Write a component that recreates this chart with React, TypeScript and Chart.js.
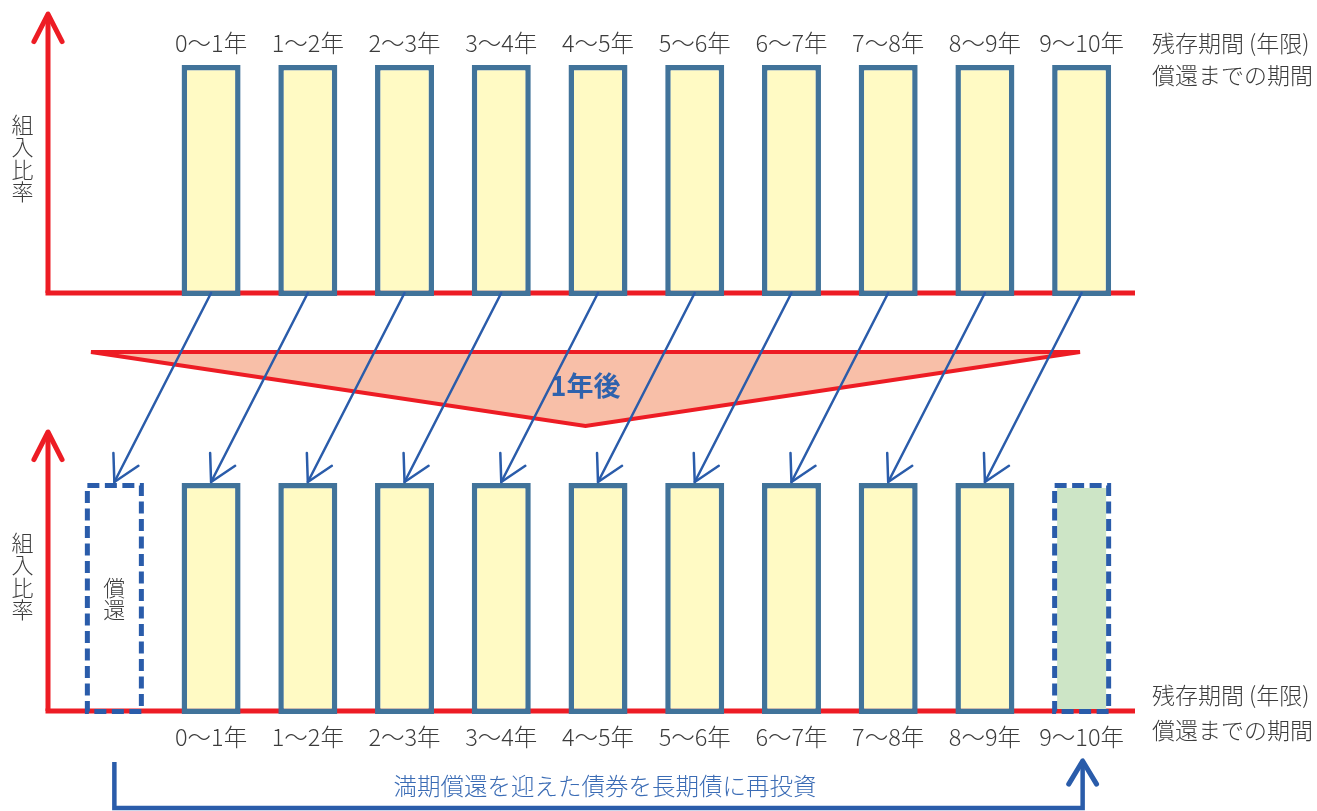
import React, { useEffect, useRef } from "react";
import { Chart, registerables } from "chart.js";

Chart.register(...registerables);

// ---- data ----
const slotLabels = ["償還", "0～1年", "1～2年", "2～3年", "3～4年", "4～5年", "5～6年", "6～7年", "7～8年", "8～9年", "9～10年"];
// 組入比率 (each maturity bucket equally weighted)
const beforeWeights = [null, 10, 10, 10, 10, 10, 10, 10, 10, 10, 10];
const afterHeldWeights = [null, 10, 10, 10, 10, 10, 10, 10, 10, 10, null];
const redeemedWeights = [10, null, null, null, null, null, null, null, null, null, null];
const reinvestedWeights = [null, null, null, null, null, null, null, null, null, null, 10];
const yAxisTitle = "組入比率";
const xAxisTitle = ["残存期間 (年限)", "償還までの期間"];
const redeemedText = "償還";
const shiftText = "1年後";
const reinvestText = "満期償還を迎えた債券を長期債に再投資";

// ---- layout / style ----
const TOP_BASE = 18.095;
const Y_MIN = -4.2;
const Y_MAX = 30.91;
const FONT = '"Noto Sans CJK JP", "Noto Sans CJK SC", sans-serif';
const RED = "#ed1c24";
const STEEL = "#41739a";
const YELLOW = "#fffac4";
const GREEN = "#cde5c6";
const BLUE = "#2a5caa";
const TEXT = "#3c3c3c";
const TRI_FILL = "#f8bfa8";

function drawArrowHead(ctx: CanvasRenderingContext2D, tx: number, ty: number, fx: number, fy: number, len: number, ang: number) {
  const a = Math.atan2(fy - ty, fx - tx);
  ctx.beginPath();
  ctx.moveTo(tx + len * Math.cos(a - ang), ty + len * Math.sin(a - ang));
  ctx.lineTo(tx, ty);
  ctx.lineTo(tx + len * Math.cos(a + ang), ty + len * Math.sin(a + ang));
  ctx.stroke();
}

const diagramPlugin = {
  id: "diagram",
  beforeDatasetsDraw(chart: any) {
    const { ctx, chartArea, scales } = chart;
    const y = scales.y;
    const axisX = chartArea.left - 18;
    ctx.save();
    // red axes for both panels
    [TOP_BASE, 0].forEach((base) => {
      const by = y.getPixelForValue(base) - 3;
      const topY = y.getPixelForValue(base + 10) - 51;
      ctx.strokeStyle = RED;
      ctx.lineWidth = 5;
      ctx.lineCap = "butt";
      ctx.beginPath();
      ctx.moveTo(axisX - 2.5, by);
      ctx.lineTo(chartArea.right + 5, by);
      ctx.stroke();
      ctx.beginPath();
      ctx.moveTo(axisX, by);
      ctx.lineTo(axisX, topY + 2);
      ctx.stroke();
      ctx.lineCap = "round";
      ctx.lineJoin = "round";
      drawArrowHead(ctx, axisX, topY, axisX, topY + 100, 31, (27 * Math.PI) / 180);
    });
    // triangle "1年後"
    const topBaseY = y.getPixelForValue(TOP_BASE) - 3;
    const lx = chartArea.left + 25;
    const rx = chartArea.right - 50;
    const ty = topBaseY + 59;
    const ax = (lx + rx) / 2;
    const ay = topBaseY + 133;
    ctx.beginPath();
    ctx.moveTo(lx, ty);
    ctx.lineTo(rx, ty);
    ctx.lineTo(ax, ay);
    ctx.closePath();
    ctx.fillStyle = TRI_FILL;
    ctx.fill();
    ctx.strokeStyle = RED;
    ctx.lineWidth = 4;
    ctx.lineJoin = "miter";
    ctx.stroke();
    ctx.fillStyle = "#2f62ad";
    ctx.font = `bold 27px ${FONT}`;
    ctx.textAlign = "center";
    ctx.textBaseline = "middle";
    ctx.fillText(shiftText, ax, ty + 34);
    ctx.restore();
  },
  afterDatasetsDraw(chart: any) {
    const { ctx, chartArea, scales } = chart;
    const x = scales.x;
    const y = scales.y;
    ctx.save();
    // dashed outlines
    chart.data.datasets.forEach((ds: any, di: number) => {
      if (!ds.dashed) return;
      const meta = chart.getDatasetMeta(di);
      meta.data.forEach((el: any, i: number) => {
        if (ds.data[i] == null) return;
        const p = el.getProps(["x", "y", "base", "width"], true);
        const lw = 5;
        const left = p.x - p.width / 2 + lw / 2;
        const top = Math.min(p.y, p.base) + lw / 2;
        const h = Math.abs(p.base - p.y) - lw;
        ctx.strokeStyle = BLUE;
        ctx.lineWidth = lw;
        ctx.setLineDash([12, 5.5]);
        ctx.lineCap = "butt";
        ctx.strokeRect(left, top, p.width - lw, h);
      });
    });
    ctx.setLineDash([]);

    // arrows from previous-year bars to next-year bars
    const startY = y.getPixelForValue(TOP_BASE) - 3;
    const endY = y.getPixelForValue(10) - 1;
    ctx.strokeStyle = BLUE;
    ctx.lineWidth = 2.5;
    ctx.lineCap = "round";
    ctx.lineJoin = "round";
    for (let i = 1; i < slotLabels.length; i++) {
      if (beforeWeights[i] == null) continue;
      const sx = x.getPixelForValue(i);
      const ex = x.getPixelForValue(i - 1);
      ctx.beginPath();
      ctx.moveTo(sx, startY);
      ctx.lineTo(ex, endY);
      ctx.stroke();
      drawArrowHead(ctx, ex, endY, sx, startY, 29, (29 * Math.PI) / 180);
    }

    // text labels
    ctx.fillStyle = TEXT;
    ctx.textBaseline = "middle";
    ctx.textAlign = "center";
    ctx.font = `300 23.5px ${FONT}`;
    const topBarTop = y.getPixelForValue(TOP_BASE + 10);
    const botBase = y.getPixelForValue(0);
    for (let i = 1; i < slotLabels.length; i++) {
      const cx = x.getPixelForValue(i);
      ctx.fillText(slotLabels[i], cx, topBarTop - 22);
      ctx.fillText(slotLabels[i], cx, botBase + 23);
    }
    // vertical y titles
    ctx.font = `300 22px ${FONT}`;
    const axisX = chartArea.left - 18;
    [TOP_BASE, 0].forEach((base) => {
      const cy = y.getPixelForValue(base) - 138;
      const chars = Array.from(yAxisTitle);
      chars.forEach((c, k) => {
        ctx.fillText(c, axisX - 25.5, cy + (k - (chars.length - 1) / 2) * 22.5);
      });
    });
    // redeemed label
    {
      const cx = x.getPixelForValue(0);
      const cy = (y.getPixelForValue(0) + y.getPixelForValue(10)) / 2;
      const chars = Array.from(redeemedText);
      chars.forEach((c, k) => {
        ctx.fillText(c, cx, cy + (k - (chars.length - 1) / 2) * 22.5);
      });
    }
    // x axis titles
    ctx.textAlign = "left";
    ctx.font = `300 23px ${FONT}`;
    const rx = chartArea.right + 22;
    ctx.fillText(xAxisTitle[0], rx, topBarTop - 22);
    ctx.fillText(xAxisTitle[1], rx, topBarTop + 10);
    ctx.fillText(xAxisTitle[0], rx, botBase - 19);
    ctx.fillText(xAxisTitle[1], rx, botBase + 16);

    // reinvest bracket
    const bx0 = x.getPixelForValue(0);
    const bx1 = x.getPixelForValue(slotLabels.length - 1) + 1;
    const bTop = botBase + 48;
    const bBottom = botBase + 94;
    ctx.strokeStyle = BLUE;
    ctx.lineWidth = 4.5;
    ctx.lineCap = "butt";
    ctx.lineJoin = "miter";
    ctx.beginPath();
    ctx.moveTo(bx0, bTop);
    ctx.lineTo(bx0, bBottom);
    ctx.lineTo(bx1, bBottom);
    ctx.lineTo(bx1, bTop + 2);
    ctx.stroke();
    ctx.lineWidth = 5;
    ctx.lineCap = "round";
    ctx.lineJoin = "round";
    drawArrowHead(ctx, bx1, bTop - 1, bx1, bTop + 100, 27, (31 * Math.PI) / 180);
    ctx.fillStyle = "#3b6cb5";
    ctx.textAlign = "center";
    ctx.font = `300 23.5px ${FONT}`;
    ctx.fillText(reinvestText, 605, bTop + 24);
    ctx.restore();
  },
};

const toFloat = (base: number) => (w: number | null) => (w == null ? null : [base, base + w]);

export default function App() {
  const ref = useRef<HTMLCanvasElement>(null);
  useEffect(() => {
    const canvas = ref.current;
    if (!canvas) return;
    const common = { borderSkipped: false, grouped: false, barThickness: 59, inflateAmount: 0 };
    const chart = new Chart(canvas, {
      type: "bar",
      data: {
        labels: slotLabels,
        datasets: [
          { label: "現在", data: beforeWeights.map(toFloat(TOP_BASE)), backgroundColor: YELLOW, borderColor: STEEL, borderWidth: 5.5, ...common } as any,
          { label: "1年後", data: afterHeldWeights.map(toFloat(0)), backgroundColor: YELLOW, borderColor: STEEL, borderWidth: 5.5, ...common } as any,
          { label: "償還", data: redeemedWeights.map(toFloat(0)), backgroundColor: "rgba(0,0,0,0)", borderColor: "rgba(0,0,0,0)", borderWidth: 0, dashed: true, ...common } as any,
          { label: "再投資", data: reinvestedWeights.map(toFloat(0)), backgroundColor: GREEN, borderColor: "rgba(0,0,0,0)", borderWidth: 5, dashed: true, ...common } as any,
        ],
      },
      options: {
        responsive: false,
        animation: false,
        maintainAspectRatio: false,
        layout: { padding: { left: 66, right: 187, top: 0, bottom: 0 } },
        scales: {
          x: { type: "category", offset: true, display: false, grid: { display: false } },
          y: { type: "linear", min: Y_MIN, max: Y_MAX, display: false, grid: { display: false } },
        },
        plugins: { legend: { display: false }, tooltip: { enabled: false } },
        events: [],
      },
      plugins: [diagramPlugin],
    });
    if ((document as any).fonts && (document as any).fonts.load) {
      Promise.all([
        (document as any).fonts.load(`300 23px ${FONT}`, "年"),
        (document as any).fonts.load(`bold 27px ${FONT}`, "年"),
      ]).then(() => {
        try { chart.draw(); } catch (e) {}
      }).catch(() => {});
    }
    return () => chart.destroy();
  }, []);
  return (
    <div style={{ position: "fixed", left: 0, top: 0, width: 1317, height: 811, background: "#fff" }}>
      <canvas ref={ref} width={1317} height={811} style={{ display: "block", width: 1317, height: 811 }} />
    </div>
  );
}
